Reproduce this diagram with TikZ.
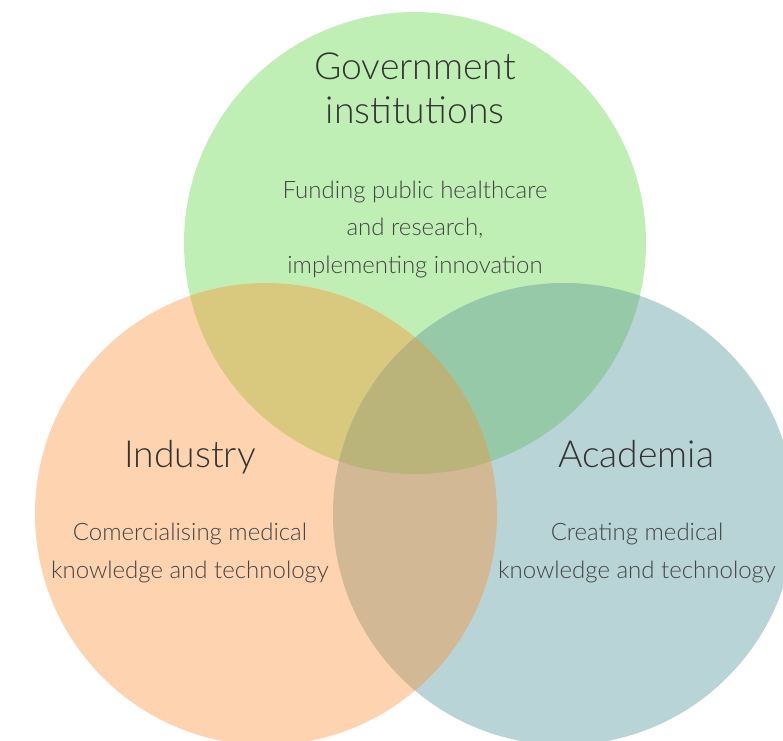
\documentclass[tikz,border=0pt]{standalone}
\usepackage{fontspec}
\setmainfont{Lato}[UprightFont={* Light}]
\definecolor{cG}{HTML}{C0EFB5}
\definecolor{cI}{HTML}{FDD3B0}
\definecolor{cA}{HTML}{B9D4D6}
\definecolor{cGI}{HTML}{D9C97F}
\definecolor{cGA}{HTML}{95C9A8}
\definecolor{cIA}{HTML}{D3B895}
\definecolor{cGIA}{HTML}{BBB47A}
\definecolor{titlec}{HTML}{333333}
\definecolor{bodyc}{HTML}{444444}
\tikzset{
  titletext/.style={text=titlec, align=center, font=\fontsize{37.3}{44}\selectfont, inner sep=0pt},
  bodytext/.style={text=bodyc, align=center, font=\fontsize{24}{37.5}\selectfont, inner sep=0pt}
}
\begin{document}
\begin{tikzpicture}[x=1pt,y=-1pt]
\useasboundingbox (0,0) rectangle (783,740);
\clip (0,0) rectangle (783,740);
\coordinate (G) at (415,243);
\coordinate (I) at (266,514);
\coordinate (A) at (564,514);
\def\R{231pt}
\fill[cG] (G) circle[radius=\R];
\fill[cI] (I) circle[radius=\R];
\fill[cA] (A) circle[radius=\R];
\begin{scope}
  \clip (G) circle[radius=\R];
  \fill[cGI] (I) circle[radius=\R];
  \fill[cGA] (A) circle[radius=\R];
\end{scope}
\begin{scope}
  \clip (I) circle[radius=\R];
  \fill[cIA] (A) circle[radius=\R];
\end{scope}
\begin{scope}
  \clip (G) circle[radius=\R];
  \clip (I) circle[radius=\R];
  \fill[cGIA] (A) circle[radius=\R];
\end{scope}
\node[titletext, anchor=base] (gt) at (415,123) {Government\\institutions};
\node[bodytext, anchor=base] (gb) at (415,273) {Funding public healthcare\\and research,\\implementing innovation};
\node[titletext, anchor=base] (it) at (190,467) {Industry};
\node[bodytext, anchor=base] (ib) at (190,578) {Comercialising medical\\knowledge and technology};
\node[titletext, anchor=base] (at) at (636,467) {Academia};
\node[bodytext, anchor=base] (ab) at (637,578) {Creating medical\\knowledge and technology};
\end{tikzpicture}
\end{document}
